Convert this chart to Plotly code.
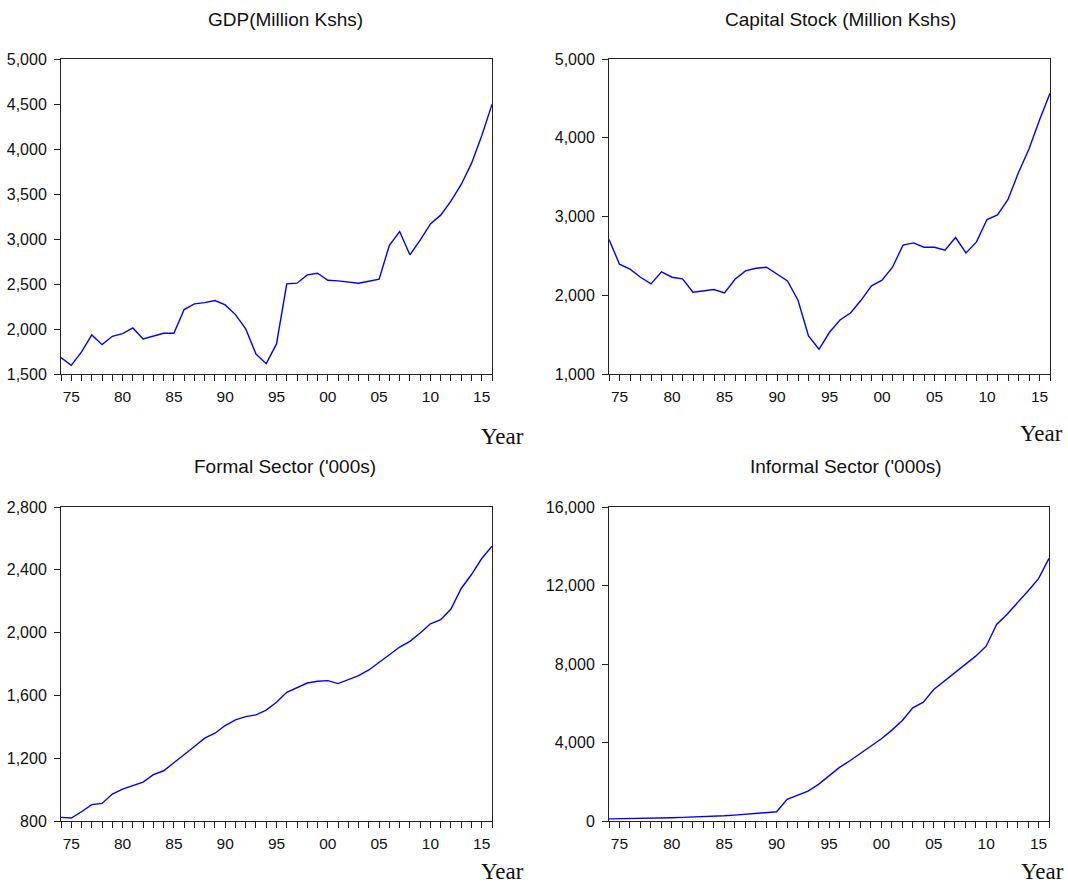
import plotly.graph_objects as go

years = list(range(1974, 2017))

gdp = [1682, 1596, 1745, 1934, 1826, 1919, 1949, 2012, 1889, 1923,
       1952, 1952, 2216, 2279, 2293, 2316, 2268, 2160, 2001, 1722,
       1615, 1834, 2501, 2509, 2601, 2620, 2542, 2535, 2523, 2509,
       2531, 2553, 2931, 3083, 2824, 2987, 3168, 3265, 3420, 3606,
       3840, 4147, 4496]

capital_stock = [2708, 2394, 2331, 2229, 2144, 2297, 2229, 2208, 2038, 2055,
                 2072, 2030, 2203, 2309, 2343, 2356, 2271, 2182, 1936, 1483,
                 1314, 1530, 1686, 1775, 1936, 2119, 2191, 2356, 2636, 2665,
                 2610, 2610, 2572, 2733, 2538, 2678, 2962, 3021, 3216, 3559,
                 3856, 4225, 4564]

formal_sector = [823, 819, 859, 904, 912, 972, 1003, 1025, 1048, 1095,
                 1120, 1171, 1226, 1275, 1328, 1359, 1408, 1444, 1465, 1476,
                 1506, 1556, 1620, 1650, 1679, 1690, 1694, 1675, 1698, 1726,
                 1762, 1808, 1859, 1908, 1944, 1997, 2056, 2082, 2150, 2281,
                 2370, 2472, 2550]

informal_sector = [110, 115, 125, 135, 145, 155, 165, 185, 200, 215,
                   240, 265, 300, 340, 380, 420, 470, 1103, 1306, 1527,
                   1866, 2308, 2732, 3071, 3444, 3818, 4191, 4632, 5124, 5769,
                   6057, 6702, 7126, 7550, 7991, 8399, 8908, 10011, 10537, 11113,
                   11724, 12352, 13380]

titles = ["GDP(Million Kshs)", "Capital Stock (Million Kshs)",
          "Formal Sector ('000s)", "Informal Sector ('000s)"]
y_ranges = [[1500, 5000], [1000, 5000], [800, 2800], [0, 16000]]
y_dticks = [500, 1000, 400, 4000]
series = [gdp, capital_stock, formal_sector, informal_sector]

W, H = 1068, 884
# panel boxes in pixels: left, right, top, bottom
boxes = [(61, 492, 59, 374), (609, 1050, 59, 374),
         (61, 492, 507, 821), (609, 1049, 507, 821)]
title_pos = [(285, 19), (840, 19), (285, 466), (846, 466)]
year_pos = [(502, 436), (1041, 433), (502, 871), (1042, 871)]

x_tickvals = years
x_ticktext = [f"{y % 100:02d}" if y % 5 == 0 else "" for y in years]

fig = go.Figure()
ytick_font = dict(family="Liberation Sans, Arial", size=16, color="#111111")
xtick_font = dict(family="Liberation Sans, Arial", size=15.5, color="#111111")

for i, (vals, box) in enumerate(zip(series, boxes)):
    xa = "x" if i == 0 else f"x{i + 1}"
    ya = "y" if i == 0 else f"y{i + 1}"
    fig.add_trace(go.Scatter(x=years, y=vals, mode="lines",
                             line=dict(color="#0000FF", width=1.4),
                             xaxis=xa, yaxis=ya, showlegend=False))
    l, r, t, b = box
    xkey = "xaxis" if i == 0 else f"xaxis{i + 1}"
    ykey = "yaxis" if i == 0 else f"yaxis{i + 1}"
    fig.layout[xkey] = dict(
        domain=[l / W, r / W], anchor=ya, range=[1974, 2016],
        tickmode="array", tickvals=x_tickvals, ticktext=x_ticktext,
        ticks="outside", ticklen=6, tickwidth=1, tickcolor="#222222",
        showline=True, linecolor="#222222", linewidth=1, mirror=True,
        showgrid=False, zeroline=False, tickfont=xtick_font,
        ticklabelstandoff=2, automargin=False,
    )
    fig.layout[ykey] = dict(
        domain=[1 - b / H, 1 - t / H], anchor=xa, range=y_ranges[i],
        dtick=y_dticks[i], tick0=0, tickformat=",d",
        ticks="outside", ticklen=6, tickwidth=1, tickcolor="#222222",
        showline=True, linecolor="#222222", linewidth=1, mirror=True,
        showgrid=False, zeroline=False, tickfont=ytick_font,
        ticklabelstandoff=4, automargin=False,
    )
    tx, ty = title_pos[i]
    fig.add_annotation(x=tx / W, y=1 - ty / H, xref="paper", yref="paper",
                       text=titles[i], showarrow=False,
                       xanchor="center", yanchor="middle",
                       font=dict(family="Liberation Sans, Arial", size=19,
                                 color="#111111"))
    yx, yy = year_pos[i]
    fig.add_annotation(x=yx / W, y=1 - yy / H, xref="paper", yref="paper",
                       text="Year", showarrow=False,
                       xanchor="center", yanchor="middle",
                       font=dict(family="Liberation Serif, Times New Roman",
                                 size=23, color="#111111"))

fig.update_layout(width=W, height=H,
                  margin=dict(l=0, r=0, t=0, b=0, pad=0, autoexpand=False),
                  paper_bgcolor="white", plot_bgcolor="white")

fig.write_html("out.html")
